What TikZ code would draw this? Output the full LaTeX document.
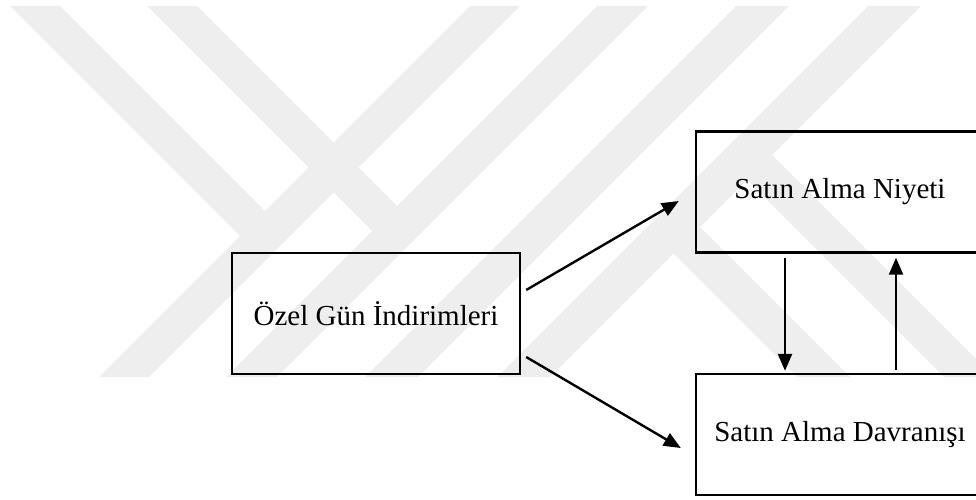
\documentclass[tikz,border=0pt]{standalone}
\usepackage{fontspec}
\setmainfont{Liberation Serif}
\usetikzlibrary{arrows.meta,calc}

\definecolor{markgray}{RGB}{238,238,238}

\tikzset{
  stage/.style={draw=black, line width=2.4pt, minimum width=288pt, minimum height=121pt,
    inner sep=0pt, font=\fontsize{29}{34}\selectfont},
  arr/.style={line width=2.4pt, -{Triangle[length=17pt,width=14pt]}},
  band/.style={fill=markgray, draw=none}
}

\begin{document}
\begin{tikzpicture}[x=1pt, y=-1pt]
  \useasboundingbox (0,0) rectangle (976,500);

  % background mark made of diagonal bands
  \fill[band] (470,6) -- (520,6) -- (149,377) -- (99,377) -- cycle;
  \fill[band] (597,6) -- (648,6) -- (277,377) -- (226,377) -- cycle;
  \fill[band] (10,6) -- (60,6) -- (265,211) -- (240,236) -- cycle;
  \fill[band] (147,6) -- (197,6) -- (397,206) -- (372,231) -- cycle;
  \fill[band] (736,6) -- (789,6) -- (418,377) -- (365,377) -- cycle;
  \fill[band] (868,6) -- (921,6) -- (550,377) -- (497,377) -- cycle;
  \fill[band] (700,227) -- (850,377) -- (797,377) -- (673,253) -- cycle;
  \fill[band] (772,155) -- (994,377) -- (944,377) -- (747,180) -- cycle;

  % stages
  \node[stage] (ozel)  at (376,313.5) {Özel Gün İndirimleri};
  \node[stage] (niyet) at (840,192)   {Satın Alma Niyeti};
  \node[stage] (davr)  at (840,434.5) {Satın Alma Davranışı};

  % links
  \draw[arr] ($(ozel.east)+(5,-23.5)$) -- ($(niyet.west)+(-16,9)$);
  \draw[arr] ($(ozel.east)+(5,43.5)$)  -- ($(davr.west)+(-14,13.5)$);
  \draw[arr] ($(niyet.south)+(-55,4)$) -- ($(davr.north)+(-55,-2)$);
  \draw[arr] ($(davr.north)+(56,-3)$)  -- ($(niyet.south)+(56,4)$);
\end{tikzpicture}
\end{document}
